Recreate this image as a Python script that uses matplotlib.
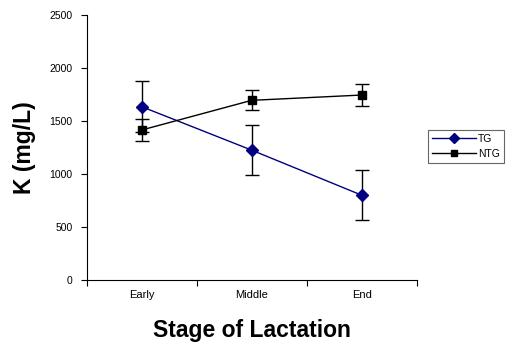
import matplotlib
matplotlib.use('Agg')
from matplotlib import pyplot as plt

plt.rcParams['font.family'] = ['Liberation Sans', 'DejaVu Sans']

stages = ['Early', 'Middle', 'End']
tg_mean = [1635, 1225, 800]
tg_err = [240, 235, 235]
ntg_mean = [1415, 1695, 1745]
ntg_err = [100, 95, 105]

fig = plt.figure(figsize=(5.09, 3.46), dpi=100)
ax = fig.add_axes([0.1703, 0.1908, 0.6484, 0.7658])

x = list(range(1, len(stages) + 1))

ax.errorbar(x, tg_mean, yerr=tg_err, color='#000080', marker='D', markersize=6,
            linewidth=1.0, ecolor='black', elinewidth=1.0, capsize=5, capthick=1.0,
            label='TG', zorder=3)
ax.errorbar(x, ntg_mean, yerr=ntg_err, color='black', marker='s', markersize=5.5,
            linewidth=1.0, ecolor='black', elinewidth=1.0, capsize=5, capthick=1.0,
            label='NTG', zorder=3)

ax.set_xlim(0.5, len(stages) + 0.5)
ax.set_ylim(0, 2500)
ax.set_yticks(range(0, 2501, 500))

# labels sit under the categories, tick marks sit between them
ax.set_xticks(x)
ax.set_xticklabels(stages)
ax.set_xticks([i + 0.5 for i in range(len(stages) + 1)], minor=True)
ax.tick_params(axis='x', which='major', length=0, pad=7, labelsize=8)
ax.tick_params(axis='x', which='minor', length=4, width=0.8, direction='out')
ax.tick_params(axis='y', length=4, width=0.8, direction='out', labelsize=7.5, pad=6)

for side in ['top', 'right']:
    ax.spines[side].set_visible(False)
for side in ['left', 'bottom']:
    ax.spines[side].set_linewidth(0.8)

ax.set_xlabel('Stage of Lactation', fontsize=16.5, fontweight='bold', labelpad=14)
ax.set_ylabel('K (mg/L)', fontsize=16.5, fontweight='bold', labelpad=10)

handles, labels = ax.get_legend_handles_labels()
handles = [h[0] for h in handles]
leg = fig.legend(handles, labels, loc='center', bbox_to_anchor=(0.841, 0.526, 0.149, 0.101),
                 fontsize=7.5, frameon=True, fancybox=False, edgecolor='#404040',
                 handlelength=4.2, handletextpad=0.2, borderpad=0.4, labelspacing=0.5,
                 markerscale=0.8)
leg.get_frame().set_linewidth(0.8)

fig.savefig('out.png', dpi=100)
plt.close()
